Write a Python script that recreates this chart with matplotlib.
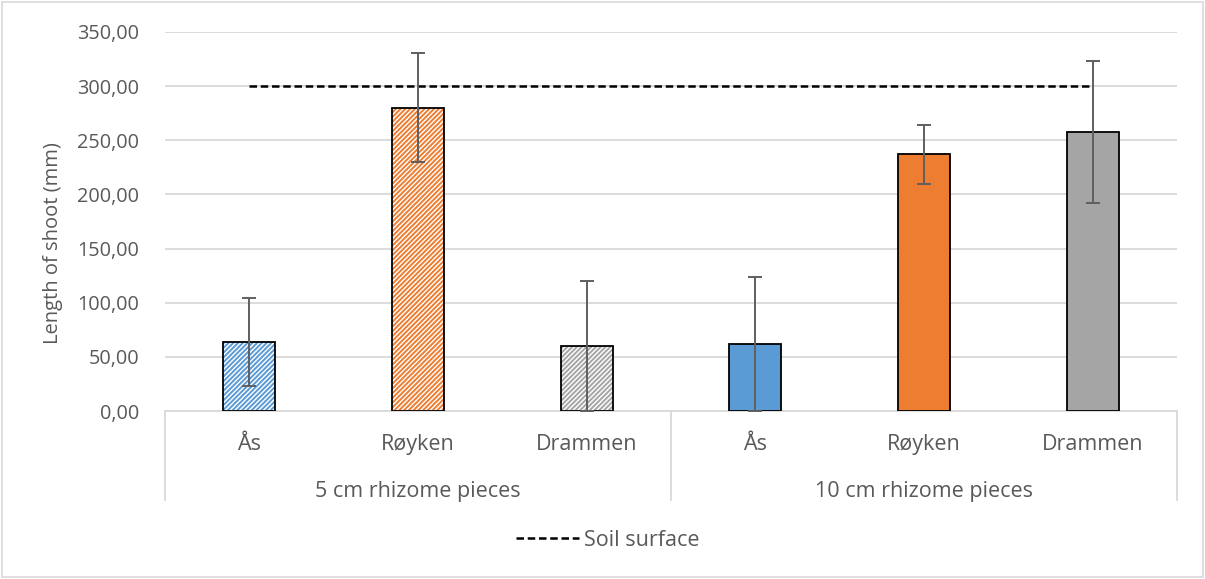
import matplotlib
matplotlib.use("Agg")
import matplotlib.pyplot as plt
from matplotlib.lines import Line2D
from matplotlib.patches import Rectangle
import matplotlib.transforms as mtransforms

plt.rcParams['font.family'] = ['Open Sans', 'DejaVu Sans']
plt.rcParams['hatch.linewidth'] = 1.4

# Data
sites = ["Ås", "Røyken", "Drammen", "Ås", "Røyken", "Drammen"]
groups = ["5 cm rhizome pieces", "10 cm rhizome pieces"]
shoot_length = [63.7, 280.0, 60.0, 62.0, 237.0, 257.5]
shoot_error = [40.5, 50.5, 60.0, 62.0, 27.0, 65.5]
soil_surface = 300.0
yticks = [0, 50, 100, 150, 200, 250, 300, 350]

site_colors = ["#5b9bd5", "#ed7d31", "#a5a5a5"]
text_color = "#595959"
grid_color = "#d9d9d9"
fs = 15.5        # category and legend text
fs_num = 14.3    # value axis numbers

fig = plt.figure(figsize=(12.05, 5.79), dpi=100)
ax = fig.add_axes([165 / 1205, 1 - 411 / 579, (1177 - 165) / 1205, (411 - 32) / 579])

x = list(range(len(sites)))
width = 0.31
for i, (xi, v) in enumerate(zip(x, shoot_length)):
    col = site_colors[i % 3]
    if i < 3:
        # hatched bars for the short rhizome pieces
        ax.bar(xi, v, width=width, facecolor="white", edgecolor=col,
               hatch="///////", linewidth=0, zorder=2)
        ax.bar(xi, v, width=width, facecolor="none", edgecolor="black",
               linewidth=1.3, zorder=3)
    else:
        ax.bar(xi, v, width=width, facecolor=col, edgecolor="black",
               linewidth=1.3, zorder=3)

ax.errorbar(x, shoot_length, yerr=shoot_error, fmt="none", ecolor="#5f5f5f",
            elinewidth=1.4, capsize=5, capthick=1.4, zorder=5)

soil_line, = ax.plot([x[0], x[-1]], [soil_surface, soil_surface], color="black",
                     linestyle=(0, (3, 1.5)), linewidth=1.8, zorder=4)

ax.set_xlim(-0.5, len(sites) - 0.5)
ax.set_ylim(0, 350)
ax.set_yticks(yticks)
ax.set_yticklabels([f"{t:.2f}".replace(".", ",") for t in yticks])
ax.yaxis.grid(True, color=grid_color, linewidth=1.3, zorder=0)
ax.set_axisbelow(True)
for s in ["top", "right", "left"]:
    ax.spines[s].set_visible(False)
ax.spines["bottom"].set_color(grid_color)
ax.spines["bottom"].set_linewidth(1.3)
ax.tick_params(axis="y", length=0, labelsize=fs_num, labelcolor=text_color, pad=18.5)
ax.set_xticks(x)
ax.set_xticklabels(sites)
ax.tick_params(axis="x", length=0, labelsize=fs, labelcolor=text_color, pad=16.5)
ax.set_ylabel("Length of shoot (mm)", fontsize=14.5, color=text_color)
ax.yaxis.set_label_coords(-0.1008, 0.443)

# group labels and separators of the two-level category axis
trans = mtransforms.blended_transform_factory(ax.transData, ax.transAxes)
for sep in [-0.5, 2.5, 5.5]:
    ax.add_line(Line2D([sep, sep], [0, -0.235], transform=trans, color=grid_color,
                       linewidth=1.3, clip_on=False))
for gi, g in enumerate(groups):
    ax.text(gi * 3 + 1, -0.213, g, transform=trans, ha="center", va="center",
            fontsize=fs, color=text_color)

fig.legend([soil_line], ["Soil surface"], loc="center", bbox_to_anchor=(608 / 1205, 1 - 540 / 579),
           frameon=False, fontsize=fs, labelcolor=text_color, handlelength=2.9,
           handletextpad=0.25)

fig.add_artist(Rectangle((0.002, 0.003), 0.996, 0.994, transform=fig.transFigure,
                         facecolor="none", edgecolor=grid_color, linewidth=1.2))

fig.savefig("out.png", dpi=100)
